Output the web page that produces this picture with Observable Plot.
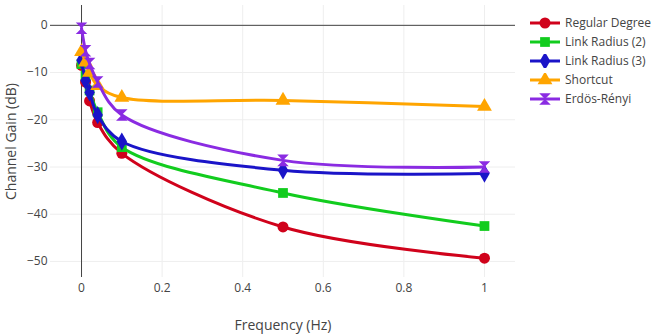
<!DOCTYPE html>
<html>
<head>
<meta charset="utf-8">
<script src="https://cdn.jsdelivr.net/npm/d3@7"></script>
<script src="https://cdn.jsdelivr.net/npm/@observablehq/plot@0.6"></script>
<style>
  html, body { margin: 0; padding: 0; background: #fff; }
  #wrap { position: relative; width: 655px; height: 334px; font-family: "Open Sans", sans-serif; }
  #legend { position: absolute; left: 530px; top: 13px; font-size: 12px; color: #444; }
  .item { display: flex; align-items: center; height: 19px; }
  .item svg { margin-right: 3px; }
  g[aria-label="x-axis label"] text, g[aria-label="y-axis label"] text { font-size: 14px; }
</style>
</head>
<body>
<div id="wrap"><div id="legend"></div></div>
<script>
const freq = [0, 0.01, 0.02, 0.04, 0.1, 0.5, 1];
const seriesNames = ["Regular Degree", "Link Radius (2)", "Link Radius (3)", "Shortcut", "Erdös-Rényi"];
const regularDegree = [-8.5, -12, -16, -20.6, -27.1, -42.7, -49.3];
const linkRadius2  = [-8.2, -10.6, -13.8, -18.4, -25.8, -35.5, -42.5];
const linkRadius3  = [-7.4, -11.7, -14.2, -19.0, -24.6, -30.7, -31.4];
const shortcut     = [-5.6, -7.8, -10.0, -12.8, -15.3, -15.9, -17.2];
const erdosRenyi   = [-0.6, -5.4, -8.1, -12.0, -19.0, -28.6, -30.0];
const seriesValues = [regularDegree, linkRadius2, linkRadius3, shortcut, erdosRenyi];
const colors = ["#d0021b", "#12cc1e", "#1a14c8", "#ffa500", "#8a2be2"];
const xTicks = [0, 0.2, 0.4, 0.6, 0.8, 1];
const yTicks = [0, -10, -20, -30, -40, -50];

const hourglass = {
  draw(context, size) {
    const r = Math.sqrt(size / Math.PI) * 1.05;
    context.moveTo(-r, -r);
    context.lineTo(r, -r);
    context.lineTo(-r, r);
    context.lineTo(r, r);
    context.closePath();
  }
};
const symbols = ["circle", "square", "diamond", "triangle", hourglass];

const series = seriesNames.map((name, i) => ({
  name, color: colors[i], symbol: symbols[i],
  rows: freq.map((f, j) => ({x: f, y: seriesValues[i][j]}))
}));

const marks = [
  Plot.gridX(xTicks, {stroke: "#eee", strokeOpacity: 1, strokeWidth: 1}),
  Plot.gridY(yTicks, {stroke: "#eee", strokeOpacity: 1, strokeWidth: 1}),
  Plot.ruleX([0], {stroke: "#444", strokeWidth: 1}),
  Plot.ruleY([0], {stroke: "#444", strokeWidth: 1}),
  Plot.axisX({ticks: xTicks, tickSize: 0, tickPadding: 6, tickFormat: d3.format("~g"),
    label: "Frequency (Hz)", labelAnchor: "center", labelOffset: 52, labelArrow: "none"}),
  Plot.axisY({ticks: yTicks, tickSize: 0, tickPadding: 3, tickFormat: d3.format("d"),
    label: "Channel Gain (dB)", labelAnchor: "center", labelOffset: 44, labelArrow: "none"})
];
for (const s of series) {
  marks.push(Plot.line(s.rows, {x: "x", y: "y", stroke: s.color, strokeWidth: 3, curve: "catmull-rom"}));
  marks.push(Plot.dot(s.rows, {x: "x", y: "y", fill: s.color, stroke: "none", symbol: () => s.symbol, r: 5.5}));
}

const chart = Plot.plot({
  width: 655,
  height: 334,
  marginLeft: 50,
  marginRight: 140,
  marginTop: 5,
  marginBottom: 57,
  style: {fontFamily: "Open Sans", fontSize: "12px", color: "#444", background: "#fff", overflow: "visible"},
  x: {domain: [-0.077, 1.077]},
  y: {domain: [-53.4, 4.2]},
  symbol: {type: "identity"},
  marks
});
const wrap = document.getElementById("wrap");
wrap.insertBefore(chart, wrap.firstChild);

const legend = document.getElementById("legend");
for (const s of series) {
  const item = document.createElement("div");
  item.className = "item";
  const svg = d3.create("svg").attr("width", 32).attr("height", 14);
  svg.append("line").attr("x1", 0).attr("x2", 30).attr("y1", 7).attr("y2", 7)
    .attr("stroke", s.color).attr("stroke-width", 3);
  const symType = {circle: d3.symbolCircle, square: d3.symbolSquare, diamond: d3.symbolDiamond, triangle: d3.symbolTriangle}[s.symbol] || s.symbol;
  svg.append("path").attr("transform", "translate(15,7)")
    .attr("d", d3.symbol(symType, 5.5 * 5.5 * Math.PI)()).attr("fill", s.color);
  item.appendChild(svg.node());
  const label = document.createElement("span");
  label.textContent = s.name;
  item.appendChild(label);
  legend.appendChild(item);
}
</script>
</body>
</html>
